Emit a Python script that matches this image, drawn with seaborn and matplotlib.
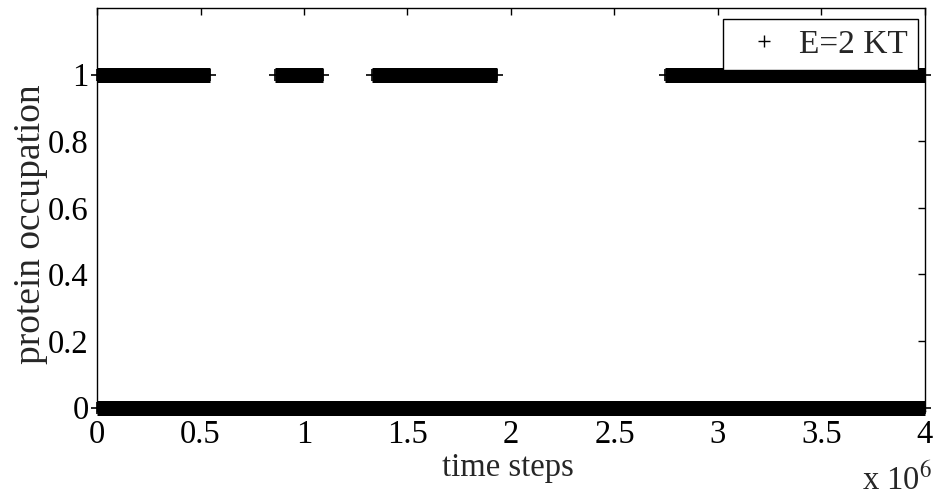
import numpy as np
import pandas as pd
import matplotlib
matplotlib.use("Agg")
import matplotlib.pyplot as plt
from matplotlib.lines import Line2D
import seaborn as sns

# Occupation intervals (time in units of 1e6 steps)
occupied_starts = [0.0, 0.86, 1.33, 2.745]
occupied_ends = [0.545, 1.09, 1.93, 4.0]
free_starts = [0.0]
free_ends = [4.0]
x_ticks = [0, 0.5, 1, 1.5, 2, 2.5, 3, 3.5, 4]
x_tick_labels = ["0", "0.5", "1", "1.5", "2", "2.5", "3", "3.5", "4"]
y_ticks = [0, 0.2, 0.4, 0.6, 0.8, 1]
y_tick_labels = ["0", "0.2", "0.4", "0.6", "0.8", "1"]
legend_label = "E=2 KT"

rows = []
seg = 0
for s, e in zip(occupied_starts, occupied_ends):
    rows.append((s * 1e6, 1.0, seg)); rows.append((e * 1e6, 1.0, seg)); seg += 1
for s, e in zip(free_starts, free_ends):
    rows.append((s * 1e6, 0.0, seg)); rows.append((e * 1e6, 0.0, seg)); seg += 1
df = pd.DataFrame(rows, columns=["time", "occupation", "segment"])

sns.set_style("white")
plt.rcParams["font.family"] = ["Liberation Serif", "DejaVu Serif"]
plt.rcParams["mathtext.fontset"] = "stix"

fig = plt.figure(figsize=(9.36, 4.98), dpi=100)
L, R, T, B = 97, 925, 8, 411
ax = fig.add_axes([L / 936, 1 - B / 498, (R - L) / 936, (B - T) / 498])

sns.lineplot(data=df, x="time", y="occupation", units="segment", estimator=None,
             sort=False, color="black", linewidth=10.8, solid_capstyle="butt",
             marker="+", markersize=8.5, markeredgewidth=1.2,
             markeredgecolor="black", markerfacecolor="black", clip_on=False,
             legend=False, ax=ax)

ax.set_xlim(0, 4e6)
ax.set_ylim(-0.01, 1.2)
ax.set_xticks([v * 1e6 for v in x_ticks])
ax.set_xticklabels(x_tick_labels)
ax.set_yticks(y_ticks)
ax.set_yticklabels(y_tick_labels)
ax.tick_params(direction="in", length=5, width=1, top=True, right=True,
               labelsize=23.5, colors="black", pad=6)
for sp in ax.spines.values():
    sp.set_visible(True)
    sp.set_color("black")
    sp.set_linewidth(1.0)

ax.set_xlabel("time steps", fontsize=23.5)
ax.xaxis.set_label_coords((508 - L) / (R - L), -(452 - B) / (B - T))
ax.set_ylabel("protein occupation", fontsize=27, va="center")
ax.yaxis.set_label_coords(-(97 - 31) / (R - L), (B - 224) / (B - T))

fig.text(932 / 936, 1 - 490 / 498, r"x 10$^{6}$", fontsize=23.5, ha="right", va="baseline")

handle = Line2D([], [], color="black", linestyle="none", marker="+", markersize=8,
                markeredgewidth=1.0)
leg = ax.legend([handle], [legend_label], loc="upper right",
                bbox_to_anchor=((918 - L) / (R - L), 1 - (19 - T) / (B - T)),
                borderaxespad=0, fancybox=False, framealpha=1, edgecolor="black",
                fontsize=24, handlelength=1.9, handletextpad=0.1, borderpad=0.3)
leg.get_frame().set_linewidth(1.0)

fig.savefig("out.png", dpi=100)
